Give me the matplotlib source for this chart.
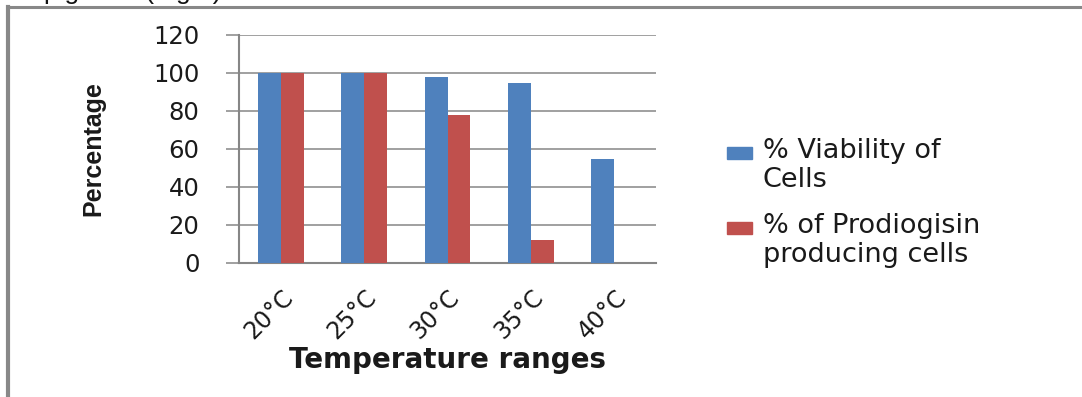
import numpy as np
import matplotlib
matplotlib.use("Agg")
import matplotlib.pyplot as plt
from matplotlib.lines import Line2D
from matplotlib.patches import Rectangle

# === Data ===
temps = ["20°C", "25°C", "30°C", "35°C", "40°C"]
viability = [100, 100, 98, 95, 55]
prodigiosin = [100, 100, 78, 12, 0]
series_names = ["% Viability of\nCells", "% of Prodiogisin\nproducing cells"]

blue = "#4F81BD"
red = "#C0504D"
grid_gray = "#868686"
text_col = "#1a1a1a"

W, H = 1082, 397
fig = plt.figure(figsize=(W / 100, H / 100), dpi=100)

# plot area in pixel coords -> figure fractions
left, right, top, bottom = 239, 656, 35, 263
ax = fig.add_axes([left / W, 1 - bottom / H, (right - left) / W, (bottom - top) / H])

x = np.arange(len(temps))
bw = 0.275
ax.bar(x - bw / 2, viability, bw, color=blue, zorder=3)
ax.bar(x + bw / 2, prodigiosin, bw, color=red, zorder=3)

ax.set_xlim(-0.5, len(temps) - 0.5)
ax.set_ylim(0, 120)
ax.set_yticks(range(0, 121, 20))
ax.yaxis.grid(True, color=grid_gray, linewidth=1.1, zorder=0)
ax.set_axisbelow(True)

for s in ["top", "right"]:
    ax.spines[s].set_visible(False)
for s in ["left", "bottom"]:
    ax.spines[s].set_color(grid_gray)
    ax.spines[s].set_linewidth(1.5)

ax.tick_params(axis="y", length=9.5, width=1.1, color=grid_gray, pad=19,
               labelsize=17.5, labelcolor=text_col)
ax.tick_params(axis="x", length=0, pad=16, labelsize=17, labelcolor=text_col)
ax.set_xticks(x)
ax.set_xticklabels(temps, rotation=45, ha="right", rotation_mode="anchor")

ax.set_xlabel("Temperature ranges", fontsize=20, fontweight="bold",
              color=text_col, labelpad=2)
ax.set_ylabel("Percentage", fontsize=18, fontweight="bold", color=text_col,
              family=["Liberation Sans", "DejaVu Sans"], labelpad=34)

# legend, drawn by hand so the key sits on the first text line
legend_rows = [153, 228]  # first-line centres, pixels from top
for name, color, yc in zip(series_names, [blue, red], legend_rows):
    fig.add_artist(Rectangle((727 / W, 1 - (yc + 6) / H), 25 / W, 12 / H,
                             color=color, transform=fig.transFigure))
    fig.text(763 / W, 1 - (yc - 15) / H, name, fontsize=19.5, color=text_col,
             va="top", ha="left", linespacing=1.15)

# outer frame (top and left edges of the figure box)
fig.add_artist(Line2D([8 / W, 1], [1 - 7 / H, 1 - 7 / H], color="#888888", lw=2.2,
                      transform=fig.transFigure))
fig.add_artist(Line2D([8 / W, 8 / W], [0, 1 - 7 / H], color="#888888", lw=3,
                      transform=fig.transFigure))

# caption text cut off at the top of the image
fig.text(44 / W, 1 + 1 / H, "pigment (Fig.2)", fontsize=19, color="#111111",
         family=["Liberation Sans", "DejaVu Sans"], va="baseline")

fig.savefig("out.png", dpi=100)
